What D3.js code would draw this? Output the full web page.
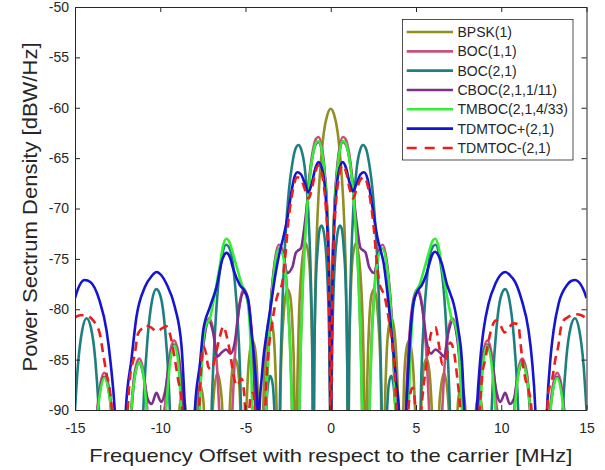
<!DOCTYPE html>
<html>
<head>
<meta charset="utf-8">
<script src="https://cdn.jsdelivr.net/npm/d3@7"></script>
<style>
    body { margin: 0; background: #fff; }
    #chart-area text { font-family: "Liberation Sans", Arial, sans-serif; fill: #262626; }
</style>
</head>
<body>
<div id="chart-area"></div>
<script>

// Axis ticks
const freqTicks = [-15, -10, -5, 0, 5, 10, 15];
const psdTicks = [-90, -85, -80, -75, -70, -65, -60, -55, -50];

// Legend labels (drawing order)
const seriesNames = ["BPSK(1)", "BOC(1,1)", "BOC(2,1)", "CBOC(2,1,1/11)", "TMBOC(2,1,4/33)", "TDMTOC+(2,1)", "TDMTOC-(2,1)"];

// PSD curves: [frequency offset MHz, dBW/Hz]; -100 = below the -90 floor
const bpsk = [
    [-15,-100],[-10.23,-100],[-9.95,-94],[-9.72,-89.6],[-9.5,-94],[-9.21,-100],
    [-9.0,-94],[-8.85,-89.5],[-8.7,-88.6],[-8.54,-89.5],[-8.4,-94],[-8.18,-100],
    [-8.0,-94],[-7.88,-89.6],[-7.67,-87.5],[-7.47,-89.1],[-7.35,-94],[-7.16,-100],
    [-7.0,-93],[-6.91,-89.6],[-6.65,-86.3],[-6.39,-89.0],[-6.3,-93],[-6.14,-100],
    [-5.98,-92],[-5.83,-87.0],[-5.63,-84.9],[-5.47,-85.6],[-5.32,-89.0],[-5.22,-95],[-5.12,-100],
    [-4.96,-90.6],[-4.81,-85.3],[-4.6,-83.1],[-4.45,-83.8],[-4.3,-87.1],[-4.2,-94],[-4.09,-100],
    [-3.94,-88.6],[-3.79,-83.2],[-3.58,-80.9],[-3.43,-81.5],[-3.27,-84.8],[-3.17,-90.1],[-3.07,-100],
    [-2.92,-86.0],[-2.76,-80.5],[-2.56,-78.0],[-2.4,-78.5],[-2.25,-81.5],[-2.15,-86.7],[-2.05,-100],
    [-2.0,-92],[-1.89,-82.2],[-1.74,-76.5],[-1.48,-73.4],[-1.28,-75.0],[-1.15,-79.7],[-1.07,-86.6],[-1.02,-100],
    [-0.97,-85.7],[-0.92,-79.3],[-0.82,-72.7],[-0.72,-68.8],[-0.56,-65.0],[-0.41,-62.5],[-0.2,-60.7],
    [0,-60.1],
    [0.2,-60.7],[0.41,-62.5],[0.56,-65.0],[0.72,-68.8],[0.82,-72.7],[0.92,-79.3],[0.97,-85.7],[1.02,-100],
    [1.07,-86.6],[1.15,-79.7],[1.28,-75.0],[1.48,-73.4],[1.74,-76.5],[1.89,-82.2],[2.0,-92],[2.05,-100],
    [2.15,-86.7],[2.25,-81.5],[2.4,-78.5],[2.56,-78.0],[2.76,-80.5],[2.92,-86.0],[3.07,-100],
    [3.17,-90.1],[3.27,-84.8],[3.43,-81.5],[3.58,-80.9],[3.79,-83.2],[3.94,-88.6],[4.09,-100],
    [4.2,-94],[4.3,-87.1],[4.45,-83.8],[4.6,-83.1],[4.81,-85.3],[4.96,-90.6],[5.12,-100],
    [5.22,-95],[5.32,-89.0],[5.47,-85.6],[5.63,-84.9],[5.83,-87.0],[5.98,-92],[6.14,-100],
    [6.3,-93],[6.39,-89.0],[6.65,-86.3],[6.91,-89.6],[7.0,-93],[7.16,-100],
    [7.35,-94],[7.47,-89.1],[7.67,-87.5],[7.88,-89.6],[8.0,-94],[8.18,-100],
    [8.4,-94],[8.54,-89.5],[8.7,-88.6],[8.85,-89.5],[9.0,-94],[9.21,-100],
    [9.5,-94],[9.72,-89.6],[9.95,-94],[10.23,-100],[15,-100]
];

const boc11 = [
    [-15,-90.5],[-14.8,-93],[-14.32,-100],
    [-13.9,-95],[-13.71,-90.3],[-13.55,-87.8],[-13.28,-86.3],[-13.04,-87.5],[-12.89,-89.4],[-12.7,-95],[-12.28,-100],
    [-11.95,-96],[-11.76,-91.3],[-11.51,-86.4],[-11.23,-84.9],[-11.0,-86.0],[-10.74,-90.5],[-10.6,-95],[-10.23,-100],
    [-9.9,-95],[-9.72,-89.6],[-9.46,-84.7],[-9.19,-83.1],[-8.95,-84.2],[-8.7,-88.6],[-8.5,-94],[-8.18,-100],
    [-7.83,-93],[-7.67,-87.5],[-7.42,-82.6],[-7.14,-80.9],[-6.91,-81.9],[-6.65,-86.3],[-6.5,-91.4],[-6.14,-100],
    [-5.95,-96],[-5.78,-90.4],[-5.63,-84.9],[-5.37,-79.8],[-5.1,-78.0],[-4.86,-78.9],[-4.6,-83.1],[-4.45,-88.1],[-4.3,-95],[-4.09,-100],
    [-3.84,-92],[-3.73,-86.6],[-3.58,-81.0],[-3.32,-75.7],[-3.05,-73.6],[-2.81,-74.2],[-2.56,-78.0],[-2.4,-82.8],[-2.3,-87.8],[-2.2,-95],[-2.05,-100],
    [-1.89,-94.6],[-1.79,-85.6],[-1.64,-77.3],[-1.43,-70.6],[-1.23,-66.5],[-1.02,-64.0],[-0.87,-63.1],[-0.72,-62.9],[-0.51,-64.0],[-0.36,-66.2],[-0.2,-70.4],[-0.1,-76.2],[-0.05,-82.2],[-0.02,-90],
    [0,-100],
    [0.02,-90],[0.05,-82.2],[0.1,-76.2],[0.2,-70.4],[0.36,-66.2],[0.51,-64.0],[0.72,-62.9],[0.87,-63.1],[1.02,-64.0],[1.23,-66.5],[1.43,-70.6],[1.64,-77.3],[1.79,-85.6],[1.89,-94.6],[2.05,-100],
    [2.2,-95],[2.3,-87.8],[2.4,-82.8],[2.56,-78.0],[2.81,-74.2],[3.05,-73.6],[3.32,-75.7],[3.58,-81.0],[3.73,-86.6],[3.84,-92],[4.09,-100],
    [4.3,-95],[4.45,-88.1],[4.6,-83.1],[4.86,-78.9],[5.1,-78.0],[5.37,-79.8],[5.63,-84.9],[5.78,-90.4],[5.95,-96],[6.14,-100],
    [6.5,-91.4],[6.65,-86.3],[6.91,-81.9],[7.14,-80.9],[7.42,-82.6],[7.67,-87.5],[7.83,-93],[8.18,-100],
    [8.5,-94],[8.7,-88.6],[8.95,-84.2],[9.19,-83.1],[9.46,-84.7],[9.72,-89.6],[9.9,-95],[10.23,-100],
    [10.6,-95],[10.74,-90.5],[11.0,-86.0],[11.23,-84.9],[11.51,-86.4],[11.76,-91.3],[11.95,-96],[12.28,-100],
    [12.7,-95],[12.89,-89.4],[13.04,-87.5],[13.28,-86.3],[13.55,-87.8],[13.71,-90.3],[13.9,-95],[14.32,-100],
    [14.8,-93],[15,-90.5]
];

const boc21 = [
    [-15,-90],[-14.83,-85.6],[-14.58,-82.1],[-14.32,-80.9],[-14.07,-81.8],[-13.81,-85.0],[-13.71,-87.2],[-13.6,-90.1],[-13.3,-100],
    [-11.25,-100],[-11.05,-92.5],[-10.95,-88.2],[-10.74,-82.8],[-10.49,-79.2],[-10.23,-78.0],[-9.97,-78.8],[-9.72,-81.9],[-9.51,-87.0],[-9.41,-91.2],[-9.21,-100],
    [-7.16,-100],[-6.96,-88.5],[-6.8,-82.6],[-6.65,-78.6],[-6.39,-74.9],[-6.14,-73.6],[-5.88,-74.2],[-5.63,-77.2],[-5.47,-80.8],[-5.32,-86.2],[-5.22,-93],[-5.12,-100],
    [-4.09,-100],[-3.9,-93],[-3.7,-87.8],[-3.55,-86.6],[-3.4,-87.5],[-3.25,-92],[-3.07,-100],
    [-2.97,-88.1],[-2.81,-78.3],[-2.66,-72.9],[-2.46,-68.3],[-2.25,-65.5],[-2.05,-64.0],[-1.89,-63.7],[-1.74,-64.1],[-1.53,-65.9],[-1.33,-69.9],[-1.18,-76.3],[-1.07,-85.8],[-1.02,-100],
    [-0.97,-86.1],[-0.87,-77.2],[-0.77,-74.1],[-0.63,-71.9],[-0.53,-71.7],[-0.36,-72.9],[-0.2,-76.7],[-0.1,-82.3],[-0.05,-88.2],
    [0,-100],
    [0.05,-88.2],[0.1,-82.3],[0.2,-76.7],[0.36,-72.9],[0.53,-71.7],[0.63,-71.9],[0.77,-74.1],[0.87,-77.2],[0.97,-86.1],[1.02,-100],
    [1.07,-85.8],[1.18,-76.3],[1.33,-69.9],[1.53,-65.9],[1.74,-64.1],[1.89,-63.7],[2.05,-64.0],[2.25,-65.5],[2.46,-68.3],[2.66,-72.9],[2.81,-78.3],[2.97,-88.1],[3.07,-100],
    [3.25,-92],[3.4,-87.5],[3.55,-86.6],[3.7,-87.8],[3.9,-93],[4.09,-100],
    [5.12,-100],[5.22,-93],[5.32,-86.2],[5.47,-80.8],[5.63,-77.2],[5.88,-74.2],[6.14,-73.6],[6.39,-74.9],[6.65,-78.6],[6.8,-82.6],[6.96,-88.5],[7.16,-100],
    [9.21,-100],[9.41,-91.2],[9.51,-87.0],[9.72,-81.9],[9.97,-78.8],[10.23,-78.0],[10.49,-79.2],[10.74,-82.8],[10.95,-88.2],[11.05,-92.5],[11.25,-100],
    [13.3,-100],[13.6,-90.1],[13.71,-87.2],[13.81,-85.0],[14.07,-81.8],[14.32,-80.9],[14.58,-82.1],[14.83,-85.6],[15,-90]
];

const cboc = [
    [-15,-100],[-14.32,-100],
    [-13.9,-95],[-13.71,-90.6],[-13.55,-88.2],[-13.28,-86.7],[-13.04,-87.9],[-12.89,-89.8],[-12.7,-95],[-12.28,-100],
    [-11.95,-96],[-11.76,-91.7],[-11.51,-86.8],[-11.23,-85.3],[-11.0,-86.4],[-10.74,-88.9],[-10.5,-89.4],[-10.23,-88.3],[-9.95,-89.2],[-9.72,-88.2],[-9.46,-85.2],[-9.19,-83.5],[-8.95,-84.6],[-8.7,-89.0],[-8.5,-95],[-8.18,-100],
    [-7.83,-93],[-7.67,-88.0],[-7.42,-82.9],[-7.14,-81.2],[-6.91,-82.2],[-6.65,-84.7],[-6.4,-84.3],[-6.14,-84.0],[-5.88,-84.4],[-5.63,-83.3],[-5.37,-79.8],[-5.1,-78.3],[-4.86,-79.3],[-4.6,-83.5],[-4.45,-88.5],[-4.35,-93.5],[-4.09,-100],
    [-3.84,-92],[-3.73,-86.7],[-3.58,-81.3],[-3.32,-76.0],[-3.05,-74.0],[-2.81,-74.4],[-2.56,-76.4],[-2.25,-75.8],[-2.05,-74.4],[-1.94,-74.2],[-1.74,-73.9],[-1.56,-72.0],[-1.43,-70.2],[-1.23,-66.8],[-1.02,-64.4],[-0.87,-63.6],[-0.72,-63.4],[-0.51,-64.4],[-0.36,-66.6],[-0.2,-70.8],[-0.1,-76.6],[-0.05,-82.6],[-0.02,-90.5],
    [0,-100],
    [0.02,-90.5],[0.05,-82.6],[0.1,-76.6],[0.2,-70.8],[0.36,-66.6],[0.51,-64.4],[0.72,-63.4],[0.87,-63.6],[1.02,-64.4],[1.23,-66.8],[1.43,-70.2],[1.56,-72.0],[1.74,-73.9],[1.94,-74.2],[2.05,-74.4],[2.25,-75.8],[2.56,-76.4],[2.81,-74.4],[3.05,-74.0],[3.32,-76.0],[3.58,-81.3],[3.73,-86.7],[3.84,-92],[4.09,-100],
    [4.35,-93.5],[4.45,-88.5],[4.6,-83.5],[4.86,-79.3],[5.1,-78.3],[5.37,-79.8],[5.63,-83.3],[5.88,-84.4],[6.14,-84.0],[6.4,-84.3],[6.65,-84.7],[6.91,-82.2],[7.14,-81.2],[7.42,-82.9],[7.67,-88.0],[7.83,-93],[8.18,-100],
    [8.5,-95],[8.7,-89.0],[8.95,-84.6],[9.19,-83.5],[9.46,-85.2],[9.72,-88.2],[9.95,-89.2],[10.23,-88.3],[10.5,-89.4],[10.74,-88.9],[11.0,-86.4],[11.23,-85.3],[11.51,-86.8],[11.76,-91.7],[11.95,-96],[12.28,-100],
    [12.7,-95],[12.89,-89.8],[13.04,-87.9],[13.28,-86.7],[13.55,-88.2],[13.71,-90.6],[13.9,-95],[14.32,-100],[15,-100]
];

const tmboc = [
    [-15,-100],[-14.32,-100],
    [-13.9,-95],[-13.69,-90.5],[-13.52,-88.2],[-13.28,-86.8],[-13.04,-88],[-12.89,-90],[-12.7,-96],[-12.28,-100],
    [-11.9,-96],[-11.74,-91],[-11.5,-86.8],[-11.22,-85.3],[-10.97,-86.8],[-10.76,-91],[-10.6,-96],[-10.23,-100],
    [-9.85,-96],[-9.65,-90],[-9.4,-85.0],[-9.16,-83.6],[-8.95,-85.2],[-8.77,-90],[-8.6,-96],[-8.18,-100],
    [-7.85,-96],[-7.69,-90],[-7.5,-83.5],[-7.3,-81.5],[-7.1,-81.0],[-6.9,-79.4],[-6.52,-75.8],[-6.3,-73.6],[-6.12,-73.0],[-5.95,-73.3],[-5.73,-74.5],[-5.45,-76.2],[-5.2,-77.6],[-5.0,-78.3],[-4.85,-79.5],[-4.7,-83.5],[-4.6,-90],[-4.45,-95],[-4.09,-100],
    [-3.84,-92.4],[-3.73,-87],[-3.58,-81.4],[-3.32,-76.1],[-3.05,-74.0],[-2.81,-74.6],[-2.56,-78.4],[-2.4,-83.2],[-2.3,-88.2],[-2.2,-95],[-2.05,-100],
    [-1.89,-95],[-1.79,-86.0],[-1.64,-77.7],[-1.43,-71.0],[-1.23,-66.9],[-1.02,-64.4],[-0.87,-63.5],[-0.72,-63.3],[-0.51,-64.4],[-0.36,-66.6],[-0.2,-70.8],[-0.1,-76.6],[-0.05,-82.6],[-0.02,-90.5],
    [0,-100],
    [0.02,-90.5],[0.05,-82.6],[0.1,-76.6],[0.2,-70.8],[0.36,-66.6],[0.51,-64.4],[0.72,-63.3],[0.87,-63.5],[1.02,-64.4],[1.23,-66.9],[1.43,-71.0],[1.64,-77.7],[1.79,-86.0],[1.89,-95],[2.05,-100],
    [2.2,-95],[2.3,-88.2],[2.4,-83.2],[2.56,-78.4],[2.81,-74.6],[3.05,-74.0],[3.32,-76.1],[3.58,-81.4],[3.73,-87],[3.84,-92.4],[4.09,-100],
    [4.45,-95],[4.56,-90],[4.7,-83.5],[4.85,-79.5],[5.0,-78.3],[5.2,-77.6],[5.45,-76.2],[5.73,-74.5],[5.95,-73.3],[6.12,-73.0],[6.3,-73.6],[6.52,-75.8],[6.9,-79.4],[7.1,-81.0],[7.3,-81.5],[7.5,-83.5],[7.69,-90],[7.85,-96],[8.18,-100],
    [8.6,-96],[8.77,-90],[8.95,-85.2],[9.16,-83.6],[9.4,-85.0],[9.65,-90],[9.85,-96],[10.23,-100],
    [10.6,-96],[10.76,-91],[10.97,-86.8],[11.22,-85.3],[11.5,-86.8],[11.74,-91],[11.9,-96],[12.28,-100],
    [12.7,-96],[12.89,-90],[13.04,-88],[13.28,-86.8],[13.52,-88.2],[13.69,-90.5],[13.9,-95],[14.32,-100],[15,-100]
];

const tdmtocPlus = [
    [-15,-78.9],[-14.83,-78.0],[-14.43,-77.1],[-14.1,-77.3],[-13.57,-79.1],[-13.15,-82.1],[-12.9,-85.5],[-12.67,-90],[-12.5,-96],[-12.3,-100],
    [-12.12,-96],[-12.02,-90],[-11.69,-85],[-11.4,-80.8],[-10.9,-77.8],[-10.5,-76.7],[-10.22,-76.3],[-9.95,-76.6],[-9.63,-77.5],[-9.14,-79.8],[-8.75,-83.7],[-8.55,-90],[-8.4,-96],[-8.2,-100],
    [-8.08,-96],[-7.97,-90],[-7.67,-85.4],[-7.48,-82.1],[-7.09,-79.8],[-6.7,-77.8],[-6.35,-75.0],[-6.11,-74.4],[-5.9,-74.9],[-5.72,-76.0],[-5.33,-77.6],[-5.05,-78.2],[-4.84,-79.1],[-4.64,-82.4],[-4.45,-85.7],[-4.3,-90],[-4.24,-100],
    [-4.18,-90],[-4.05,-86.8],[-3.96,-85],[-3.76,-82.4],[-3.47,-79.1],[-3.27,-76.8],[-2.98,-74.2],[-2.8,-73.0],[-2.55,-71.0],[-2.35,-68.8],[-2.15,-67.0],[-1.96,-66.4],[-1.75,-66.6],[-1.5,-67.6],[-1.31,-68.4],[-1.1,-67.4],[-0.9,-66.0],[-0.72,-65.4],[-0.45,-66.5],[-0.3,-68.8],[-0.18,-72.5],[-0.1,-77.5],[-0.05,-84],[-0.02,-92],
    [0,-100],
    [0.02,-92],[0.05,-84],[0.1,-77.5],[0.18,-72.5],[0.3,-68.8],[0.45,-66.5],[0.7,-65.4],[0.9,-66.0],[1.1,-67.4],[1.3,-68.3],[1.5,-67.6],[1.75,-66.6],[1.95,-66.4],[2.15,-67.0],[2.35,-68.8],[2.55,-71.0],[2.75,-73.0],[2.95,-74.3],[3.1,-75.4],[3.25,-77.3],[3.45,-80.4],[3.65,-83.8],[3.85,-87.4],[4.0,-90],[4.15,-100],
    [4.35,-96],[4.44,-90],[4.55,-86],[4.66,-82.7],[4.85,-79.4],[5.05,-78.3],[5.34,-77.6],[5.55,-76.8],[5.73,-75.8],[5.95,-74.6],[6.12,-74.3],[6.3,-74.6],[6.52,-75.5],[6.81,-77.5],[7.0,-78.4],[7.2,-79.4],[7.49,-82.1],[7.69,-85],[7.83,-90],[7.95,-96],[8.2,-100],
    [8.45,-96],[8.57,-90],[8.77,-85],[8.96,-82.1],[9.26,-79.4],[9.65,-77.5],[9.95,-76.6],[10.24,-76.3],[10.5,-76.6],[10.82,-77.3],[11.2,-79.1],[11.6,-82.1],[11.8,-85],[12.0,-90],[12.12,-96],[12.3,-100],
    [12.55,-96],[12.68,-90],[12.88,-85],[13.07,-82.1],[13.37,-79.4],[13.86,-77.6],[14.1,-77.2],[14.35,-77.1],[14.6,-77.4],[14.83,-78.1],[15,-78.9]
];

const tdmtocMinus = [
    [-15,-80.8],[-14.7,-80.6],[-14.4,-80.6],[-13.94,-81.1],[-13.55,-82.4],[-13.35,-84.4],[-13.15,-86.4],[-12.96,-88],[-12.86,-89.5],[-12.7,-93],[-12.28,-100],
    [-12.05,-94],[-11.79,-87],[-11.49,-84.4],[-11.3,-82.4],[-11.0,-81.8],[-10.9,-81.6],[-10.55,-81.8],[-10.2,-82.2],[-9.9,-81.9],[-9.63,-81.7],[-9.34,-83.1],[-9.14,-85],[-8.95,-87],[-8.75,-89],[-8.6,-93],[-8.18,-100],
    [-7.8,-94],[-7.65,-87],[-7.48,-83.7],[-7.3,-84.5],[-7.19,-85.7],[-7.0,-86],[-6.75,-84.5],[-6.5,-82.7],[-6.3,-81.7],[-6.1,-82.7],[-5.9,-84.4],[-5.72,-86.4],[-5.5,-87.6],[-5.23,-86.9],[-5.05,-89],[-4.95,-94],[-4.85,-92],[-4.7,-88.6],[-4.54,-88.3],[-4.4,-91],[-4.09,-100],
    [-3.88,-92],[-3.8,-88],[-3.66,-84.3],[-3.47,-81.8],[-3.3,-79.9],[-3.08,-78.4],[-2.98,-78.1],[-2.85,-77.4],[-2.68,-75.0],[-2.5,-71.5],[-2.35,-69.5],[-2.15,-67.6],[-1.97,-66.9],[-1.75,-67.1],[-1.5,-68.2],[-1.3,-69.0],[-1.1,-68.0],[-0.9,-66.4],[-0.72,-65.7],[-0.45,-67.2],[-0.3,-69.6],[-0.15,-74.8],[-0.08,-81],[-0.03,-90],
    [0,-100],
    [0.03,-90],[0.08,-81],[0.15,-74.8],[0.3,-69.6],[0.45,-67.2],[0.7,-65.7],[0.9,-66.4],[1.1,-68.0],[1.3,-69.0],[1.5,-68.2],[1.75,-67.1],[1.97,-66.9],[2.15,-67.6],[2.35,-69.5],[2.5,-71.5],[2.68,-75.0],[2.85,-77.4],[3.0,-78.1],[3.12,-78.5],[3.3,-79.9],[3.47,-81.8],[3.66,-84.3],[3.8,-88],[3.88,-92],[4.09,-100],
    [4.45,-92],[4.6,-89],[4.8,-87.8],[4.95,-89.5],[5.08,-94],[5.2,-92],[5.45,-87.5],[5.65,-85.0],[5.9,-82.3],[6.15,-81.8],[6.35,-83.6],[6.55,-85.5],[6.75,-85.0],[7.0,-83.3],[7.2,-84.0],[7.4,-86.5],[7.6,-90],[7.8,-96],[8.18,-100],
    [8.6,-94],[8.75,-89.5],[8.87,-86.7],[9.06,-85.0],[9.25,-83.2],[9.45,-81.8],[9.7,-81.1],[9.95,-81.6],[10.2,-82.3],[10.45,-81.8],[10.75,-81.4],[11.0,-81.5],[11.12,-83.2],[11.25,-85.2],[11.4,-86.8],[11.6,-88],[11.75,-89.5],[11.9,-93],[12.28,-100],
    [12.6,-94],[12.76,-88.3],[12.98,-87.0],[13.17,-85.0],[13.37,-83.4],[13.47,-82.1],[13.66,-81.1],[13.9,-80.8],[14.1,-80.6],[14.4,-80.5],[14.7,-80.6],[15,-80.9]
];

const seriesData = [bpsk, boc11, boc21, cboc, tmboc, tdmtocPlus, tdmtocMinus];

// Line styles, same order as seriesNames
const seriesColors = ["#8f8f22", "#c8507d", "#1f7f80", "#7e2f8e", "#33ee33", "#1414d2", "#eb1e1e"];
const seriesDash = [null, null, null, null, null, null, "9,6"];


class PsdChart {

    constructor(_parentElement, _data) {
        this.parentElement = _parentElement;
        this.data = _data;
        this.initVis();
    }

    initVis() {
        let vis = this;

        vis.margin = { top: 7, right: 18.5, bottom: 60, left: 75 };
        vis.width = 605 - vis.margin.left - vis.margin.right;
        vis.height = 470 - vis.margin.top - vis.margin.bottom;

        vis.svg = d3.select("#" + vis.parentElement).append("svg")
            .attr("width", 605)
            .attr("height", 470)
            .append("g")
            .attr("transform", "translate(" + vis.margin.left + "," + vis.margin.top + ")");

        // Scales
        vis.x = d3.scaleLinear().domain([-15, 15]).range([0, vis.width]);
        vis.y = d3.scaleLinear().domain([-90, -50]).range([vis.height, 0]);

        // Clip so curves stop at the box
        vis.svg.append("clipPath").attr("id", "plot-clip")
            .append("rect")
            .attr("width", vis.width)
            .attr("height", vis.height);

        vis.line = d3.line()
            .x(d => vis.x(d[0]))
            .y(d => vis.y(d[1]))
            .curve(d3.curveMonotoneX);

        vis.updateVis();
    }

    updateVis() {
        let vis = this;

        let curves = vis.svg.append("g").attr("clip-path", "url(#plot-clip)");

        curves.selectAll(".psd")
            .data(vis.data)
            .enter().append("path")
            .attr("class", "psd")
            .attr("d", d => vis.line(d))
            .attr("fill", "none")
            .attr("stroke", (d, i) => seriesColors[i])
            .attr("stroke-width", 2.6)
            .attr("stroke-dasharray", (d, i) => seriesDash[i])
            .attr("stroke-linejoin", "round");

        // Axes (box with inward ticks, MATLAB style)
        let fmt = d => String(d);
        vis.svg.append("g").attr("class", "axis")
            .attr("transform", "translate(0," + vis.height + ")")
            .call(d3.axisBottom(vis.x).tickValues(freqTicks).tickSizeInner(-5).tickSizeOuter(0).tickPadding(13).tickFormat(fmt));
        vis.svg.append("g").attr("class", "axis")
            .call(d3.axisTop(vis.x).tickValues(freqTicks).tickSizeInner(-5).tickSizeOuter(0).tickFormat(""));
        vis.svg.append("g").attr("class", "axis")
            .call(d3.axisLeft(vis.y).tickValues(psdTicks).tickSizeInner(-5).tickSizeOuter(0).tickPadding(6).tickFormat(fmt));
        vis.svg.append("g").attr("class", "axis")
            .attr("transform", "translate(" + vis.width + ",0)")
            .call(d3.axisRight(vis.y).tickValues(psdTicks).tickSizeInner(-5).tickSizeOuter(0).tickFormat(""));

        vis.svg.selectAll(".axis path, .axis line").attr("stroke", "#262626");
        vis.svg.selectAll(".axis text").style("font-size", "14px").attr("fill", "#262626");

        // Axis titles (the source figure is slightly stretched sideways)
        vis.svg.append("text")
            .attr("x", vis.width / 2)
            .attr("y", vis.height + 52)
            .style("text-anchor", "middle")
            .style("font-size", "19px")
            .attr("textLength", 483)
            .attr("lengthAdjust", "spacingAndGlyphs")
            .text("Frequency Offset with respect to the carrier [MHz]");

        vis.svg.append("text")
            .attr("transform", "translate(" + (37 - vis.margin.left) + "," + (207 - vis.margin.top) + ") rotate(-90)")
            .style("text-anchor", "middle")
            .style("font-size", "20px")
            .attr("textLength", 329)
            .attr("lengthAdjust", "spacingAndGlyphs")
            .text("Power Sectrum Density [dBW/Hz]");

        // Legend
        let legend = vis.svg.append("g")
            .attr("transform", "translate(" + (402.5 - vis.margin.left) + "," + (19.5 - vis.margin.top) + ")");

        legend.append("rect")
            .attr("width", 170.5)
            .attr("height", 140.5)
            .attr("fill", "#fff")
            .attr("stroke", "#262626")
            .attr("stroke-width", 0.8);

        let items = legend.selectAll(".legend-item")
            .data(seriesNames)
            .enter().append("g")
            .attr("class", "legend-item")
            .attr("transform", (d, i) => "translate(0," + (12.5 + i * 19.33) + ")");

        items.append("line")
            .attr("x1", 4.2).attr("x2", 50.5)
            .attr("stroke", (d, i) => seriesColors[i])
            .attr("stroke-width", 2.6)
            .attr("stroke-dasharray", (d, i) => seriesDash[i] ? "10,8" : null);

        items.append("text")
            .attr("x", 55)
            .attr("dy", "0.35em")
            .style("font-size", "14px")
            .text(d => d);
    }
}

new PsdChart("chart-area", seriesData);

</script>
</body>
</html>
